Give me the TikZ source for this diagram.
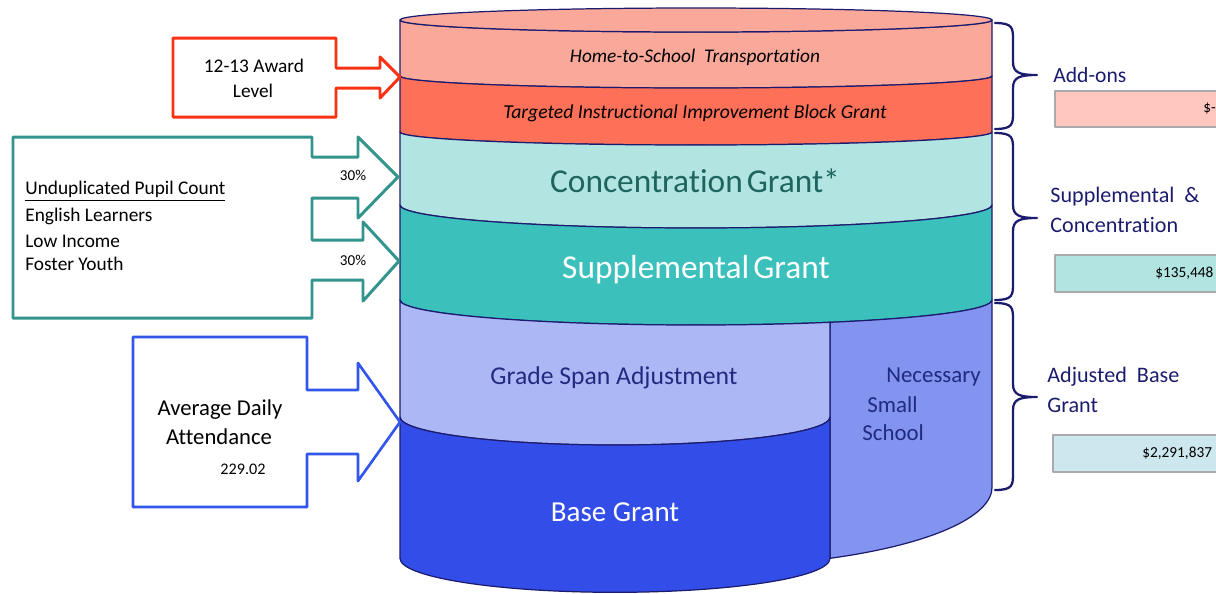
\documentclass[tikz,border=0pt]{standalone}
\usepackage{fontspec}
\setmainfont{Carlito}[Ligatures={NoCommon,NoContextual}]
\definecolor{navy}{RGB}{28,28,110}
\definecolor{home}{RGB}{250,168,154}
\definecolor{targ}{RGB}{255,112,88}
\definecolor{conc}{RGB}{178,228,225}
\definecolor{supp}{RGB}{60,192,188}
\definecolor{gsa}{RGB}{172,183,245}
\definecolor{nss}{RGB}{131,148,240}
\definecolor{base}{RGB}{51,77,232}
\definecolor{conctext}{RGB}{30,100,95}
\definecolor{bluetext}{RGB}{32,42,128}
\definecolor{redcall}{RGB}{250,50,20}
\definecolor{tealcall}{RGB}{50,148,140}
\definecolor{bluecall}{RGB}{50,85,235}
\definecolor{boxa}{RGB}{255,199,190}
\definecolor{boxb}{RGB}{178,228,225}
\definecolor{boxc}{RGB}{204,232,238}
\definecolor{boxline}{RGB}{170,170,170}
\begin{document}
\begin{tikzpicture}[x=0.02cm,y=-0.02cm,line join=round,
  band/.style={draw=navy,line width=0.7pt},
  callout/.style={line width=1.7pt,fill=white},
  brc/.style={draw=navy,line width=1.3pt,line cap=round},
  valbox/.style={draw=boxline,line width=0.8pt},
  lbl/.style={inner sep=0pt,font=\fontsize{#1}{#1}\selectfont},
  lbl/.default=11]
\useasboundingbox (0,0) rectangle (1216,593);
\clip (0,0) rectangle (1216,593);
% cylinder bands
\path[band,fill=home] (400,20) arc[start angle=180,end angle=0,x radius=296,y radius=12] -- (992,76) arc[start angle=0,end angle=180,x radius=296,y radius=12] -- cycle;
\path[band,fill=home] (696,20) ellipse[x radius=296,y radius=12];
\path[band,fill=targ] (400,76) arc[start angle=180,end angle=0,x radius=296,y radius=12] -- (992,132) arc[start angle=0,end angle=180,x radius=296,y radius=13] -- cycle;
\path[band,fill=conc] (400,132) arc[start angle=180,end angle=0,x radius=296,y radius=13] -- (992,205) arc[start angle=0,end angle=180,x radius=296,y radius=23] -- cycle;
\path[band,fill=supp] (400,205) arc[start angle=180,end angle=0,x radius=296,y radius=23] -- (992,300) arc[start angle=0,end angle=180,x radius=296,y radius=25] -- cycle;
\path[band,fill=nss] (830,322.3) -- (830,558.3) arc[start angle=63.1,end angle=0,x radius=296,y radius=80] -- (992,300) arc[start angle=0,end angle=63.1,x radius=296,y radius=25] -- cycle;
\path[band,fill=gsa] (400,300) arc[start angle=180,end angle=63.1,x radius=296,y radius=25] -- (830,417) arc[start angle=0,end angle=180,x radius=215,y radius=28] -- cycle;
\path[band,fill=base] (400,417) arc[start angle=180,end angle=0,x radius=215,y radius=28] -- (830,558.3) arc[start angle=0,end angle=180,x radius=215,y radius=34] -- cycle;
% cylinder texts
\node[lbl=11] (hts) at (695,57) {\itshape Home-to-School\ \ Transportation};
\node[lbl=11.2] (tiibg) at (695,113) {\itshape Targeted Instructional Improvement\ Block Grant};
\node[lbl=19,text=conctext] (cg) at (695,181) {Concentration\hspace{0.12em}Grant*};
\node[lbl=19,text=white] (sg) at (696,270) {Supplemental\hspace{0.12em}Grant};
\node[lbl=14.6,text=bluetext] (gsa) at (614,378) {Grade Span Adjustment};
\node[lbl=16.5,text=white] (bg) at (615,512) {Base Grant};
\node[lbl=13,text=bluetext,anchor=west] (nss1) at (886,377) {Necessary};
\node[lbl=13,text=bluetext,anchor=west] (nss2) at (867,405) {Small};
\node[lbl=13,text=bluetext,anchor=west] (nss3) at (862,433) {School};
% callouts
\draw[callout,draw=redcall] (173,38) -- (336,38) -- (336,68) -- (380,68) -- (380,57) -- (400,77) -- (380,98) -- (380,88) -- (336,88) -- (336,117) -- (173,117) -- cycle;
\node[lbl=11] (aw1) at (254,66) {12-13 Award};
\node[lbl=11] (aw2) at (253,91) {Level};
\draw[callout,draw=tealcall] (13,137) -- (312,137) -- (312,157) -- (358,157) -- (358,137) -- (398,177) -- (358,218) -- (358,198) -- (312,198) -- (312,240) -- (363,240) -- (363,222) -- (399,261) -- (363,301) -- (363,280) -- (312,280) -- (312,318) -- (13,318) -- cycle;
\node[lbl=8.6] (p1) at (353,175) {30\%};
\node[lbl=8.6] (p2) at (353,260) {30\%};
\node[lbl=11,anchor=west] (u1) at (25,191) {\underline{Unduplicated Pupil Count}};
\node[lbl=11,anchor=west] (u2) at (25,216) {English Learners};
\node[lbl=11,anchor=west] (u3) at (25,241) {Low Income};
\node[lbl=11,anchor=west] (u4) at (25,264) {Foster Youth};
\draw[callout,draw=bluecall,line width=1.5pt] (133,337) -- (307,337) -- (307,390) -- (358,390) -- (358,363) -- (400,422) -- (358,481) -- (358,454) -- (307,454) -- (307,507) -- (133,507) -- cycle;
\node[lbl=12.9] (ada1) at (220,410) {Average Daily};
\node[lbl=12.9] (ada2) at (219,437) {Attendance};
\node[lbl=9.2] (ada3) at (243,469) {229.02};
% braces
\draw[brc] (995,23) .. controls (1013,23) and (1013,28) .. (1013,40) -- (1013,62) .. controls (1013,73) and (1020,75) .. (1037,75) .. controls (1020,75) and (1013,77) .. (1013,88) -- (1013,112) .. controls (1013,124) and (1013,129) .. (995,129);
\draw[brc] (995,133) .. controls (1013,133) and (1013,138) .. (1013,150) -- (1013,205) .. controls (1013,216) and (1020,218) .. (1037,218) .. controls (1020,218) and (1013,220) .. (1013,231) -- (1013,283) .. controls (1013,295) and (1013,300) .. (995,300);
\draw[brc] (995,303) .. controls (1013,303) and (1013,308) .. (1013,320) -- (1013,384) .. controls (1013,395) and (1020,397) .. (1037,397) .. controls (1020,397) and (1013,399) .. (1013,410) -- (1013,473) .. controls (1013,485) and (1013,490) .. (995,490);
% right labels
\node[lbl=12.3,text=navy,anchor=west] (ao) at (1053,75) {Add-ons};
\node[lbl=12.6,text=navy,anchor=west] (sc1) at (1050,197) {Supplemental \ \&};
\node[lbl=12.6,text=navy,anchor=west] (sc2) at (1050,225) {Concentration};
\node[lbl=12.6,text=navy,anchor=west] (ab1) at (1047,377) {Adjusted\ \ Base};
\node[lbl=12.6,text=navy,anchor=west] (ab2) at (1047,405) {Grant};
\path[valbox,fill=boxa] (1055,91) rectangle (1240,127);
\path[valbox,fill=boxb] (1055,255) rectangle (1240,292);
\path[valbox,fill=boxc] (1053,435) rectangle (1240,472);
\node[lbl=8.7,anchor=west] (v1) at (1203,109) {\$-};
\node[lbl=8.7,anchor=west] (v2) at (1155,273) {\$135,448};
\node[lbl=8.7,anchor=west] (v3) at (1142,453) {\$2,291,837};
\end{tikzpicture}
\end{document}
